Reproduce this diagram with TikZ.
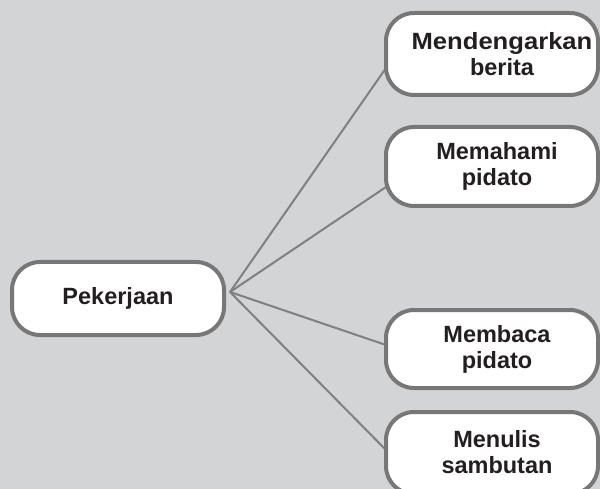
\documentclass[tikz,border=0pt]{standalone}
\usepackage{fontspec}
\setmainfont{Liberation Sans}
\definecolor{bgc}{HTML}{D3D4D6}
\definecolor{bordc}{HTML}{777777}
\definecolor{linec}{HTML}{808080}
\definecolor{txtc}{HTML}{231F20}
\tikzset{
  rbox/.style={rectangle, rounded corners=28pt, draw=bordc, line width=4pt, fill=white, minimum width=212pt, inner sep=0pt},
  txt/.style={align=center, text=txtc, font=\fontsize{23.5pt}{26pt}\selectfont\bfseries, inner sep=0pt},
  conn/.style={draw=linec, line width=2pt}
}
\begin{document}
\begin{tikzpicture}[x=1pt,y=-1pt]
\fill[bgc] (0,0) rectangle (600,489);
\useasboundingbox (0,0) rectangle (600,489);
\begin{scope}
\clip (0,0) rectangle (600,489);
\coordinate (hub) at (230,292);
\coordinate (e1) at (386,68);
\coordinate (e2) at (386,187);
\coordinate (e3) at (386,345);
\coordinate (e4) at (386,450);
\draw[conn] (hub) -- (e1);
\draw[conn] (hub) -- (e2);
\draw[conn] (hub) -- (e3);
\draw[conn] (hub) -- (e4);
\node[rbox, minimum width=212pt, minimum height=73pt] (p) at (118,298.5) {};
\node[txt] (pt) at (p.center) {Pekerjaan};
\node[rbox, minimum height=82pt] (b1) at (492,54) {};
\node[rbox, minimum height=79pt] (b2) at (492,166.5) {};
\node[rbox, minimum height=78pt] (b3) at (492,349) {};
\node[rbox, minimum height=82pt] (b4) at (492,453) {};
\node[txt] (t1) at ([xshift=10pt]b1.center) {\scalebox{1.09}[1]{Mendengarkan}\\berita};
\node[txt] (t2) at ([xshift=5pt]b2.center) {Memahami\\pidato};
\node[txt] (t3) at ([xshift=5pt]b3.center) {Membaca\\pidato};
\node[txt] (t4) at ([xshift=5pt,yshift=1pt]b4.center) {Menulis\\sambutan};
\end{scope}
\end{tikzpicture}
\end{document}
